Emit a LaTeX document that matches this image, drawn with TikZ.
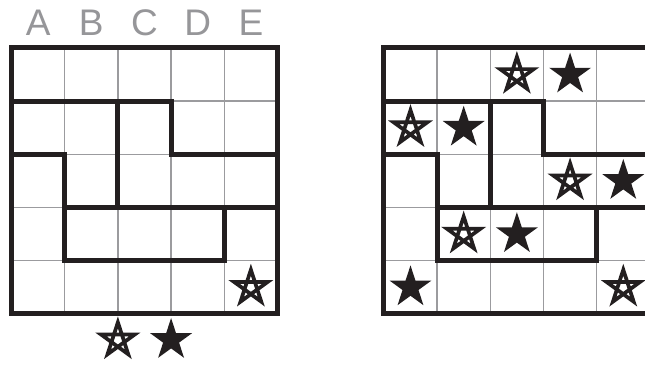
\documentclass[tikz,border=0pt]{standalone}
\usepackage{fontspec}
\setmainfont{Liberation Sans}
\usepackage{xcolor}
\usepackage{tikz}
\usetikzlibrary{shapes.geometric}

\definecolor{ink}{RGB}{35,31,32}
\definecolor{rulegray}{RGB}{155,155,158}
\definecolor{lettergray}{RGB}{150,150,153}

\begin{document}
\begin{tikzpicture}[
    cellline/.style={draw=rulegray, line width=1.4pt},
    wall/.style={draw=ink, line width=5pt, line cap=rect,
                 line join=miter},
    head/.style={text=lettergray, font=\fontsize{37}{40}\selectfont,
                 anchor=base, inner sep=0pt},
    fullstar/.style={star, star points=5, star point ratio=2.618,
                     fill=ink, inner sep=0pt, minimum size=44pt},
    openstar/.style={star, star points=5, star point ratio=2.618,
                     inner sep=0pt, minimum size=34pt},
    penta/.style={draw=ink, line width=3.7pt, line join=miter},
    x=53.2pt, y=53.2pt
  ]
  \path[use as bounding box, fill=white] (-0.216,-0.959) rectangle (11.908,5.902);
  \clip (-0.216,-0.959) rectangle (11.908,5.902);

  % the two grids, same regions
  \foreach \ox in {0,7} {
    \begin{scope}[shift={(\ox,0)}]
      \draw[cellline] (0,0) grid[step={(1,1)}] (5,5);
      \draw[wall] (0,4) -- (3,4) -- (3,3) -- (5,3);
      \draw[wall] (2,4) -- (2,2);
      \draw[wall] (0,3) -- (1,3) -- (1,1) -- (4,1) -- (4,2);
      \draw[wall] (1,2) -- (5,2);
      \draw[wall] (0,0) rectangle (5,5);
    \end{scope}
  }

  % column letters
  \foreach \l [count=\i] in {A,B,C,D,E}
    \node[head] (col\l) at (\i-0.5, 5.244) {\l};

  % left grid and key
  \node[openstar] (lE5) at (4.5, 0.5) {};
  \node[openstar] (keyopen) at (2, -0.489) {};
  \node[fullstar] (keyfull) at (3, -0.489) {};

  % right grid
  \node[openstar] (rC1) at (9.5, 4.5) {};
  \node[fullstar] (rD1) at (10.5, 4.5) {};
  \node[openstar] (rA2) at (7.5, 3.5) {};
  \node[fullstar] (rB2) at (8.5, 3.5) {};
  \node[openstar] (rD3) at (10.5, 2.5) {};
  \node[fullstar] (rE3) at (11.5, 2.5) {};
  \node[openstar] (rB4) at (8.5, 1.5) {};
  \node[fullstar] (rC4) at (9.5, 1.5) {};
  \node[fullstar] (rA5) at (7.5, 0.5) {};
  \node[openstar] (rE5) at (11.5, 0.5) {};

  % pentagram lines of the open stars
  \foreach \s in {lE5, keyopen, rC1, rA2, rD3, rB4, rE5}
    \draw[penta] (\s.outer point 1) -- (\s.outer point 3)
      -- (\s.outer point 5) -- (\s.outer point 2)
      -- (\s.outer point 4) -- cycle;
\end{tikzpicture}
\end{document}
